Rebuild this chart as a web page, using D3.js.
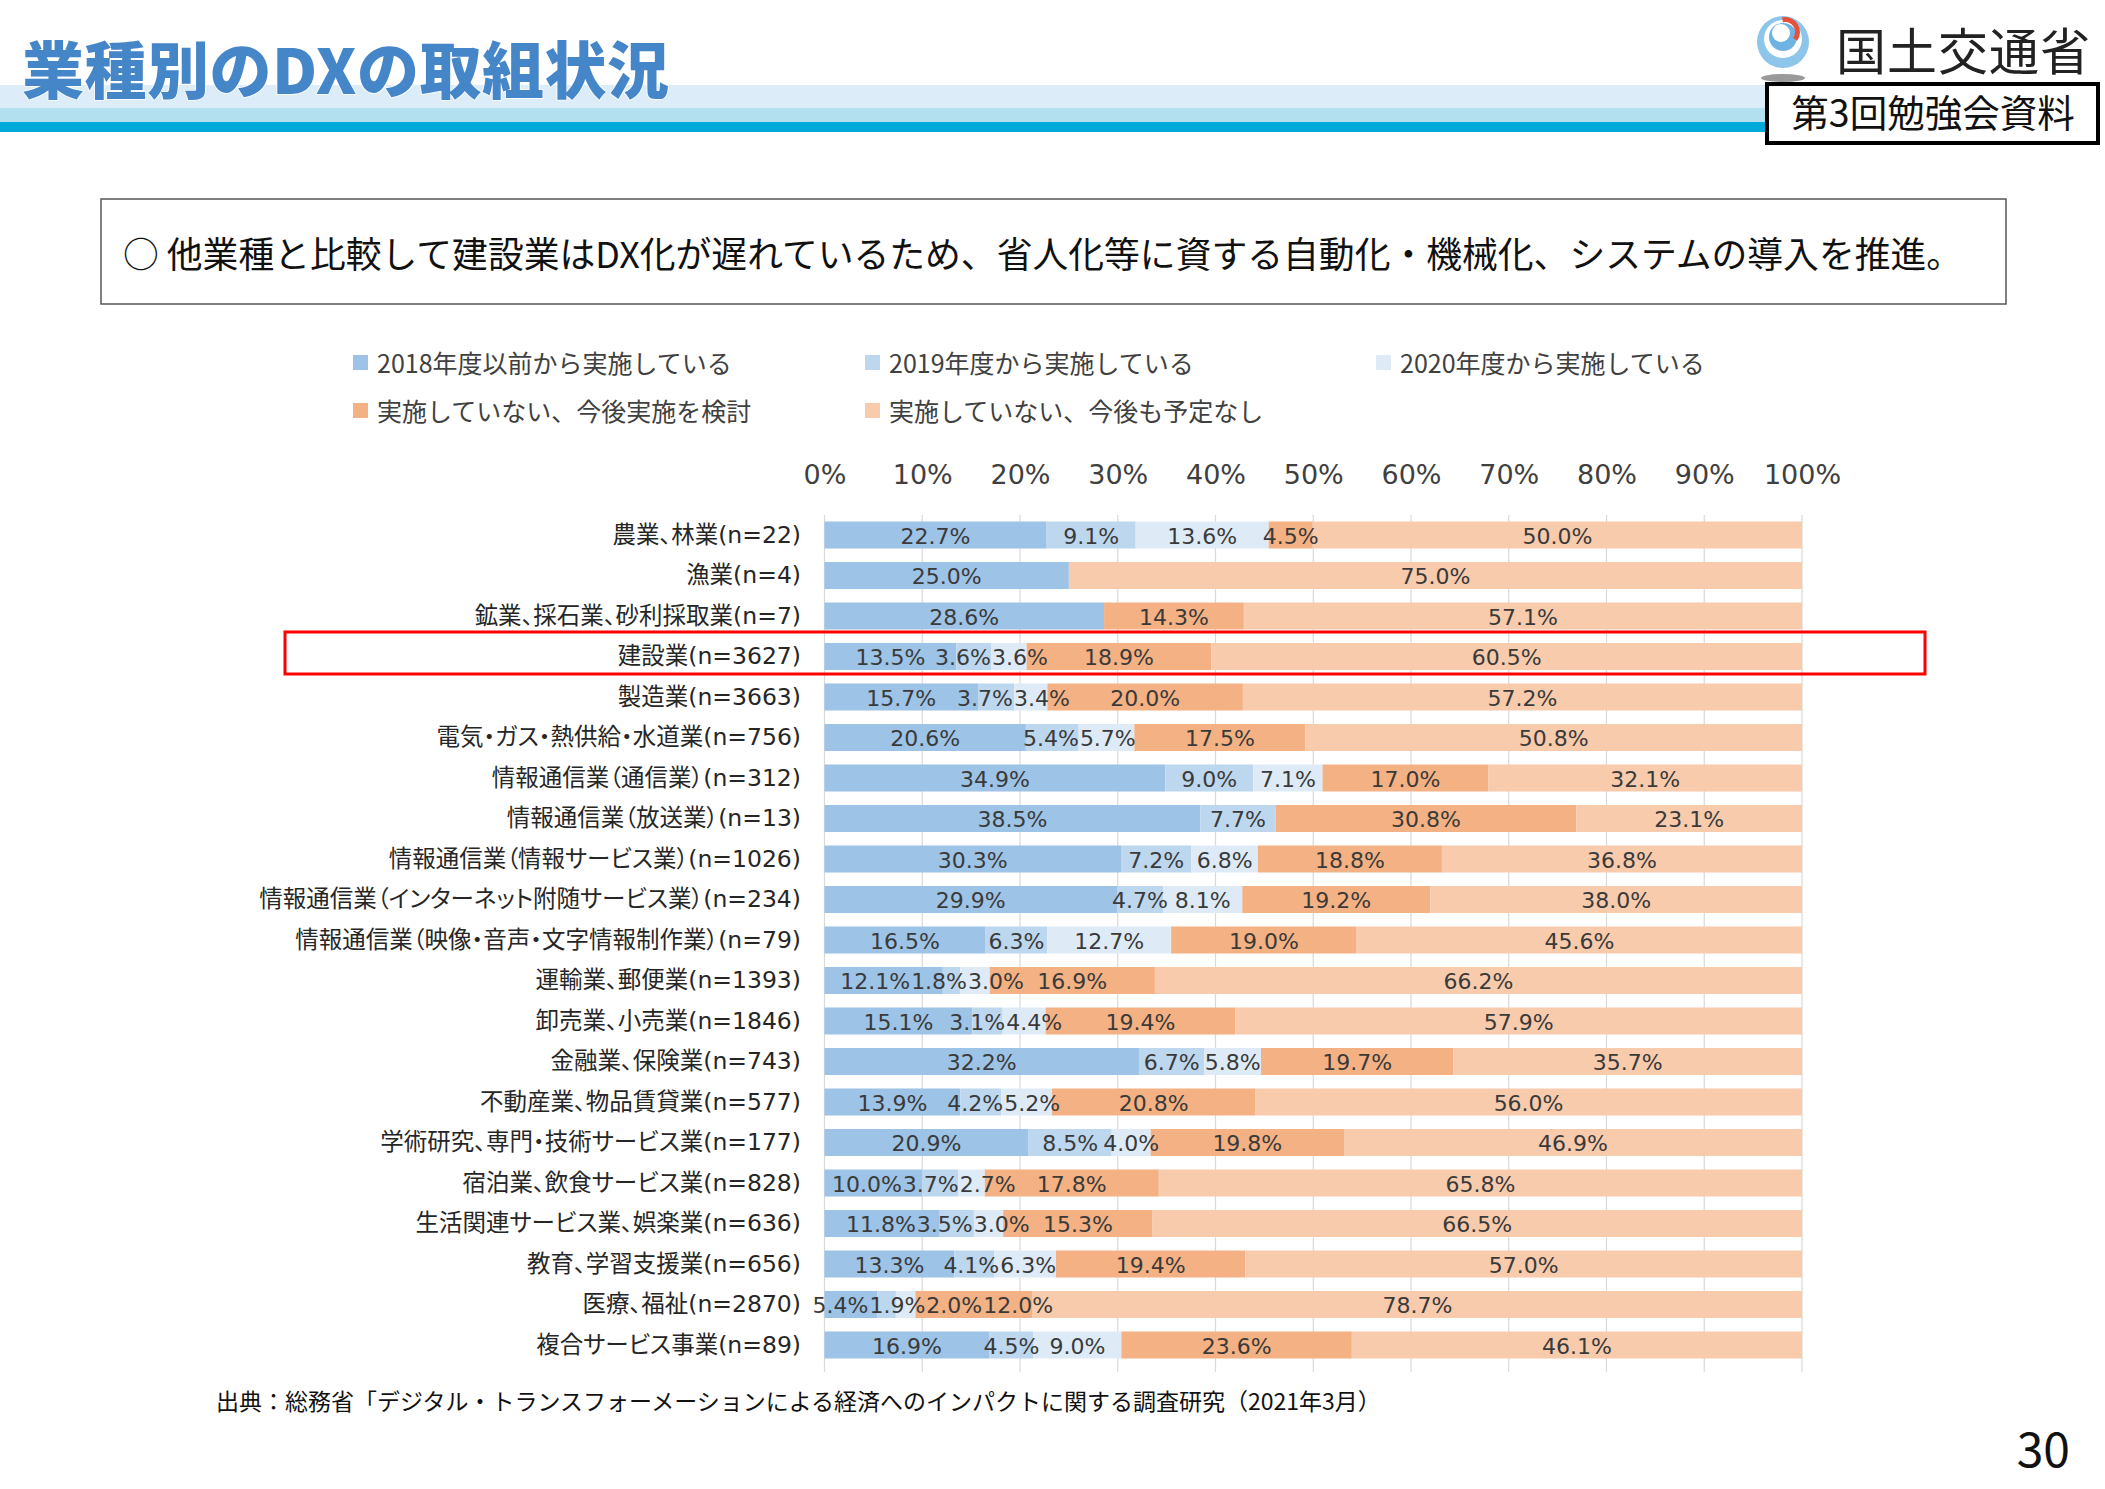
<!DOCTYPE html>
<html>
<head>
<meta charset="utf-8">
<script src="https://cdn.jsdelivr.net/npm/d3@7"></script>
<style>
  body { margin: 0; background: #fff; }
  svg { display: block; font-family: "Noto Sans CJK JP", "Noto Sans", sans-serif; }
</style>
</head>
<body>
<div class="chart"></div>
<script>
// categories (top to bottom)
const categories = [
  '農業、林業(n=22)',
  '漁業(n=4)',
  '鉱業、採石業、砂利採取業(n=7)',
  '建設業(n=3627)',
  '製造業(n=3663)',
  '電気・ガス・熱供給・水道業(n=756)',
  '情報通信業（通信業）(n=312)',
  '情報通信業（放送業）(n=13)',
  '情報通信業（情報サービス業）(n=1026)',
  '情報通信業（インターネット附随サービス業）(n=234)',
  '情報通信業（映像・音声・文字情報制作業）(n=79)',
  '運輸業、郵便業(n=1393)',
  '卸売業、小売業(n=1846)',
  '金融業、保険業(n=743)',
  '不動産業、物品賃貸業(n=577)',
  '学術研究、専門・技術サービス業(n=177)',
  '宿泊業、飲食サービス業(n=828)',
  '生活関連サービス業、娯楽業(n=636)',
  '教育、学習支援業(n=656)',
  '医療、福祉(n=2870)',
  '複合サービス事業(n=89)'
]

const seriesNames = [
  '2018年度以前から実施している',
  '2019年度から実施している',
  '2020年度から実施している',
  '実施していない、今後実施を検討',
  '実施していない、今後も予定なし'
]

const since2018 = [22.7, 25.0, 28.6, 13.5, 15.7, 20.6, 34.9, 38.5, 30.3, 29.9, 16.5, 12.1, 15.1, 32.2, 13.9, 20.9, 10.0, 11.8, 13.3, 5.4, 16.9]
const since2019 = [9.1, 0, 0, 3.6, 3.7, 5.4, 9.0, 7.7, 7.2, 4.7, 6.3, 1.8, 3.1, 6.7, 4.2, 8.5, 3.7, 3.5, 4.1, 1.9, 4.5]
const since2020 = [13.6, 0, 0, 3.6, 3.4, 5.7, 7.1, 0, 6.8, 8.1, 12.7, 3.0, 4.4, 5.8, 5.2, 4.0, 2.7, 3.0, 6.3, 2.0, 9.0]
const considering = [4.5, 0, 14.3, 18.9, 20.0, 17.5, 17.0, 30.8, 18.8, 19.2, 19.0, 16.9, 19.4, 19.7, 20.8, 19.8, 17.8, 15.3, 19.4, 12.0, 23.6]
const noPlan = [50.0, 75.0, 57.1, 60.5, 57.2, 50.8, 32.1, 23.1, 36.8, 38.0, 45.6, 66.2, 57.9, 35.7, 56.0, 46.9, 65.8, 66.5, 57.0, 78.7, 46.1]

const tickLabels = ['0%', '10%', '20%', '30%', '40%', '50%', '60%', '70%', '80%', '90%', '100%']

const colors = ['#9dc3e6', '#bdd7ee', '#deebf7', '#f4b183', '#f8cbad']
const keys = ['s0', 's1', 's2', 's3', 's4']

const rows = categories.map((c, i) => ({
  cat: c,
  s0: since2018[i], s1: since2019[i], s2: since2020[i], s3: considering[i], s4: noPlan[i]
}))

const W = 2105, H = 1489
const numFont = '"DejaVu Sans", "Noto Sans CJK JP", sans-serif'

const svg = d3.select('.chart')
  .append('svg')
  .attr('width', W)
  .attr('height', H)
  .attr('viewBox', [0, 0, W, H])

// ---- header ----
svg.append('rect').attr('x', 0).attr('y', 85).attr('width', 1765).attr('height', 23).attr('fill', '#dcedf9')
svg.append('rect').attr('x', 0).attr('y', 108).attr('width', 1765).attr('height', 14).attr('fill', '#b2e0ef')
svg.append('rect').attr('x', 0).attr('y', 122).attr('width', 1765).attr('height', 10).attr('fill', '#00a9d8')

svg.append('text')
  .attr('x', 22).attr('y', 94)
  .attr('font-size', 62).attr('font-weight', 900)
  .attr('letter-spacing', 0.5)
  .attr('fill', '#4586c9')
  .attr('stroke', '#fff').attr('stroke-width', 1.5).attr('paint-order', 'stroke')
  .text('業種別のDXの取組状況')

// emblem
const emb = svg.append('g').attr('transform', 'translate(1783,42)')
emb.append('circle').attr('r', 26).attr('fill', '#8ec5ea')
emb.append('circle').attr('r', 19).attr('cy', -3).attr('fill', '#fff')
emb.append('circle').attr('r', 14).attr('cy', -5).attr('fill', '#6fb3e3')
emb.append('circle').attr('r', 9).attr('cx', -2).attr('cy', -9).attr('fill', '#fff')
emb.append('path')
  .attr('d', d3.arc()({ innerRadius: 10, outerRadius: 15, startAngle: -0.2, endAngle: 2.2 }))
  .attr('transform', 'translate(2,-10)')
  .attr('fill', '#e8503a')
emb.append('ellipse').attr('cy', 36).attr('rx', 22).attr('ry', 4).attr('fill', '#9a9a9a')

svg.append('text')
  .attr('x', 1836).attr('y', 70)
  .attr('font-size', 50).attr('fill', '#222')
  .attr('letter-spacing', 1)
  .text('国土交通省')

svg.append('rect')
  .attr('x', 1767).attr('y', 84).attr('width', 331).attr('height', 59)
  .attr('fill', '#fff').attr('stroke', '#000').attr('stroke-width', 4)
svg.append('text')
  .attr('x', 1933).attr('y', 127)
  .attr('text-anchor', 'middle')
  .attr('font-size', 37.5).attr('fill', '#111')
  .text('第3回勉強会資料')

// ---- statement box ----
svg.append('rect')
  .attr('x', 101).attr('y', 199).attr('width', 1905).attr('height', 105)
  .attr('fill', 'none').attr('stroke', '#555').attr('stroke-width', 1.5)
svg.append('text')
  .attr('x', 123).attr('y', 252)
  .attr('dominant-baseline', 'central')
  .attr('font-size', 35.8).attr('fill', '#111')
  .text('○ 他業種と比較して建設業はDX化が遅れているため、省人化等に資する自動化・機械化、システムの導入を推進。')

// ---- legend ----
const legendPos = [[353, 362], [865, 362], [1376, 362], [353, 410], [865, 410]]
const legend = svg.append('g')
  .selectAll('g')
  .data(seriesNames)
  .join('g')
  .attr('transform', (d, i) => `translate(${legendPos[i][0]},${legendPos[i][1]})`)
legend.append('rect')
  .attr('x', 0).attr('y', -7).attr('width', 15).attr('height', 15)
  .attr('fill', (d, i) => colors[i])
legend.append('text')
  .attr('x', 24).attr('y', 0)
  .attr('dominant-baseline', 'central')
  .attr('font-size', 25).attr('fill', '#404040')
  .text(d => d)

// ---- chart ----
const x = d3.scaleLinear().domain([0, 1]).range([824.5, 1802])
const y = d3.scaleBand()
  .domain(categories)
  .range([514.75, 1365.25])
  .paddingInner(0.333)
  .paddingOuter(0.1665)

const stack = d3.stack().keys(keys).offset(d3.stackOffsetExpand)
const stacked = stack(rows)

// grid
svg.append('g')
  .selectAll('line')
  .data(d3.range(0, 1.0001, 0.1))
  .join('line')
  .attr('x1', d => x(d)).attr('x2', d => x(d))
  .attr('y1', 515).attr('y2', 1372)
  .attr('stroke', '#d9d9d9').attr('stroke-width', 1.2)

// top axis labels
const xAxis = d3.axisTop(x)
  .tickValues(d3.range(0, 1.0001, 0.1))
  .tickFormat((d, i) => tickLabels[i])
  .tickSize(0)
  .tickPadding(0)
svg.append('g')
  .attr('transform', 'translate(0,484)')
  .call(xAxis)
  .call(g => g.select('.domain').remove())
  .call(g => g.selectAll('text')
    .attr('font-family', numFont)
    .attr('font-size', 27).attr('fill', '#404040'))

// bars
const layer = svg.append('g')
  .selectAll('g')
  .data(stacked)
  .join('g')
  .attr('fill', (d, i) => colors[i])
layer.selectAll('rect')
  .data(d => d)
  .join('rect')
  .attr('x', d => x(d[0]))
  .attr('width', d => x(d[1]) - x(d[0]))
  .attr('y', d => y(d.data.cat))
  .attr('height', y.bandwidth())

// value labels, centred on segments then spread apart where they collide
const labelData = []
stacked.forEach(s => {
  s.forEach(d => {
    const v = d.data[s.key]
    if (v > 0) labelData.push({ cat: d.data.cat, v, cx: (x(d[0]) + x(d[1])) / 2 })
  })
})
const labels = svg.append('g')
  .attr('font-family', numFont)
  .attr('font-size', 22)
  .attr('fill', '#3a3a3a')
  .attr('text-anchor', 'middle')
  .selectAll('text')
  .data(labelData)
  .join('text')
  .attr('x', d => d.cx)
  .attr('y', d => y(d.cat) + y.bandwidth() / 2 + 1)
  .attr('dominant-baseline', 'central')
  .text(d => d.v.toFixed(1) + '%')

labels.each(function (d) { d.w = this.getComputedTextLength() })
const minLeft = x(0) - 12
d3.groups(labelData, d => d.cat).forEach(([cat, items]) => {
  for (let k = 0; k < 80; k++) {
    for (let i = 0; i < items.length - 1; i++) {
      const a = items[i], b = items[i + 1]
      const overlap = (a.cx + a.w / 2 + 1) - (b.cx - b.w / 2)
      if (overlap > 0) {
        a.cx -= overlap / 2
        b.cx += overlap / 2
      }
    }
    const f = items[0]
    if (f.cx - f.w / 2 < minLeft) f.cx = minLeft + f.w / 2
  }
  for (let i = 0; i < items.length - 1; i++) {
    const a = items[i], b = items[i + 1]
    const overlap = (a.cx + a.w / 2 + 1) - (b.cx - b.w / 2)
    if (overlap > 0) b.cx += overlap
  }
})
labels.attr('x', d => d.cx)

// category labels
const yAxis = d3.axisLeft(y).tickSize(0).tickPadding(0)
svg.append('g')
  .attr('transform', 'translate(801,0)')
  .call(yAxis)
  .call(g => g.select('.domain').remove())
  .call(g => g.selectAll('text')
    .attr('font-family', numFont)
    .style('font-feature-settings', '"palt"')
    .attr('font-size', 23.5).attr('fill', '#262626'))

// highlight box for construction
const hy = y('建設業(n=3627)')
svg.append('rect')
  .attr('x', 285).attr('y', hy - 11)
  .attr('width', 1640).attr('height', 42)
  .attr('fill', 'none').attr('stroke', '#ff0000').attr('stroke-width', 3)

// ---- footer ----
svg.append('text')
  .attr('x', 216).attr('y', 1410)
  .attr('font-size', 23).attr('fill', '#111')
  .text('出典：総務省「デジタル・トランスフォーメーションによる経済へのインパクトに関する調査研究（2021年3月）')

svg.append('text')
  .attr('x', 2070).attr('y', 1467)
  .attr('text-anchor', 'end')
  .attr('font-size', 48).attr('fill', '#111')
  .text('30')
</script>
</body>
</html>
